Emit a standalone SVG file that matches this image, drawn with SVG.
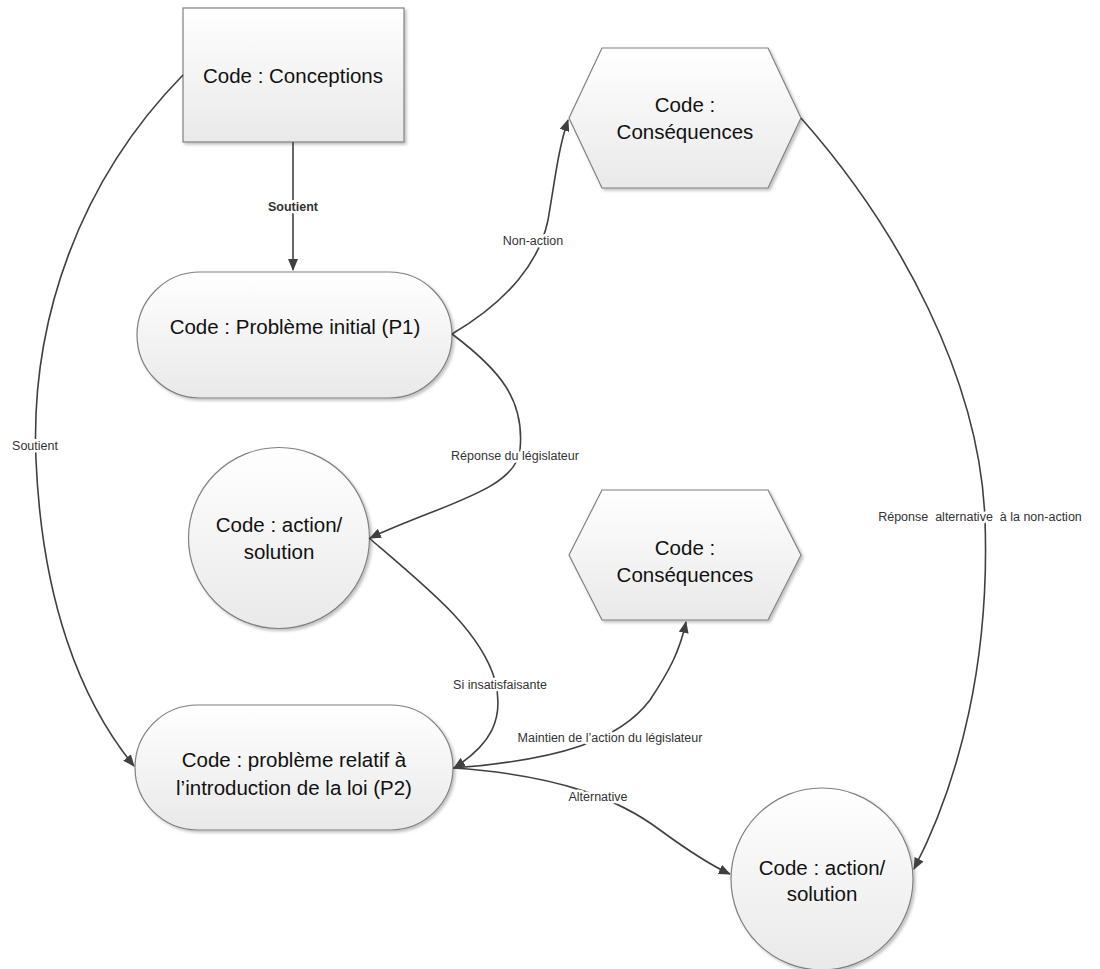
<svg xmlns="http://www.w3.org/2000/svg" width="1100" height="969" viewBox="0 0 1100 969">
<style>
.shape{stroke:#808080;stroke-width:1.2;fill:url(#g);filter:url(#sh)}
.nt{font-family:"Liberation Sans",Arial,sans-serif;font-size:20.5px;fill:#111;text-anchor:middle}
.conn{fill:none;stroke:#404040;stroke-width:1.6;marker-end:url(#arr)}
.lbl{font-family:"Liberation Sans",Arial,sans-serif;font-size:12.5px;fill:#333;text-anchor:middle;paint-order:stroke;stroke:#fff;stroke-width:5px;stroke-linejoin:round}
</style>
<defs>
<linearGradient id="g" x1="0" y1="0" x2="0" y2="1">
<stop offset="0" stop-color="#ffffff"/>
<stop offset="1" stop-color="#e9e9e9"/>
</linearGradient>
<filter id="sh" x="-10%" y="-10%" width="125%" height="125%">
<feDropShadow dx="2" dy="2" stdDeviation="1.5" flood-color="#000" flood-opacity="0.25"/>
</filter>
<marker id="arr" viewBox="0 0 12 10" refX="11" refY="5" markerWidth="12" markerHeight="10" markerUnits="userSpaceOnUse" orient="auto">
<path d="M0,0 L12,5 L0,10 z" fill="#404040"/>
</marker>
</defs>
<rect width="1100" height="969" fill="#fff"/>

<g id="n-conceptions">
<rect class="shape" x="183" y="8" width="221" height="134"/>
<text class="nt" x="293" y="83">Code : Conceptions</text>
</g>
<g id="n-consequences1">
<polygon class="shape" points="569,118 602,48 768,48 801,118 768,188 602,188"/>
<text class="nt" x="685" y="112">Code :</text>
<text class="nt" x="685" y="139">Conséquences</text>
</g>
<g id="n-p1">
<rect class="shape" x="137" y="272" width="315" height="126" rx="63"/>
<text class="nt" x="295" y="334">Code : Problème initial (P1)</text>
</g>
<g id="n-action1">
<circle class="shape" cx="279" cy="538" r="90.5"/>
<text class="nt" x="279" y="532">Code : action/</text>
<text class="nt" x="279" y="559">solution</text>
</g>
<g id="n-consequences2">
<polygon class="shape" points="569,555 602,490 768,490 801,555 768,620 602,620"/>
<text class="nt" x="685" y="555">Code :</text>
<text class="nt" x="685" y="582">Conséquences</text>
</g>
<g id="n-p2">
<rect class="shape" x="135" y="705" width="318" height="125" rx="62.5"/>
<text class="nt" x="294" y="767">Code : problème relatif à</text>
<text class="nt" x="294" y="795">l’introduction de la loi (P2)</text>
</g>
<g id="n-action2">
<circle class="shape" cx="822" cy="879" r="91"/>
<text class="nt" x="822" y="875">Code : action/</text>
<text class="nt" x="822" y="901">solution</text>
</g>

<g id="connectors">
<path class="conn" d="M293,142 L293,270"/>
<path class="conn" d="M183,75 C80,180 30,320 36,460 C42,600 80,700 134,766"/>
<path class="conn" d="M452,334 C510,300 540,260 548,220 C555,180 558,150 568,120"/>
<path class="conn" d="M452,334 C500,370 525,400 520,450 C516,490 440,505 370,538"/>
<path class="conn" d="M369,538 C430,590 480,630 495,680 C505,720 490,745 454,768"/>
<path class="conn" d="M453,768 C560,760 620,740 650,700 C670,670 680,650 686,622"/>
<path class="conn" d="M453,768 C560,775 620,800 660,830 C690,852 710,865 730,874"/>
<path class="conn" d="M801,118 C900,230 980,380 985,520 C990,660 960,780 914,869"/>
</g>
<g id="labels">
<text class="lbl" x="293" y="211" font-weight="bold">Soutient</text>
<text class="lbl" x="35" y="450">Soutient</text>
<text class="lbl" x="533" y="245">Non-action</text>
<text class="lbl" x="515" y="460">Réponse du législateur</text>
<text class="lbl" x="500" y="689">Si insatisfaisante</text>
<text class="lbl" x="610" y="742">Maintien de l’action du législateur</text>
<text class="lbl" x="598" y="801">Alternative</text>
<text class="lbl" x="980" y="521">Réponse&#160; alternative&#160; à la non-action</text>
</g>
</svg>
